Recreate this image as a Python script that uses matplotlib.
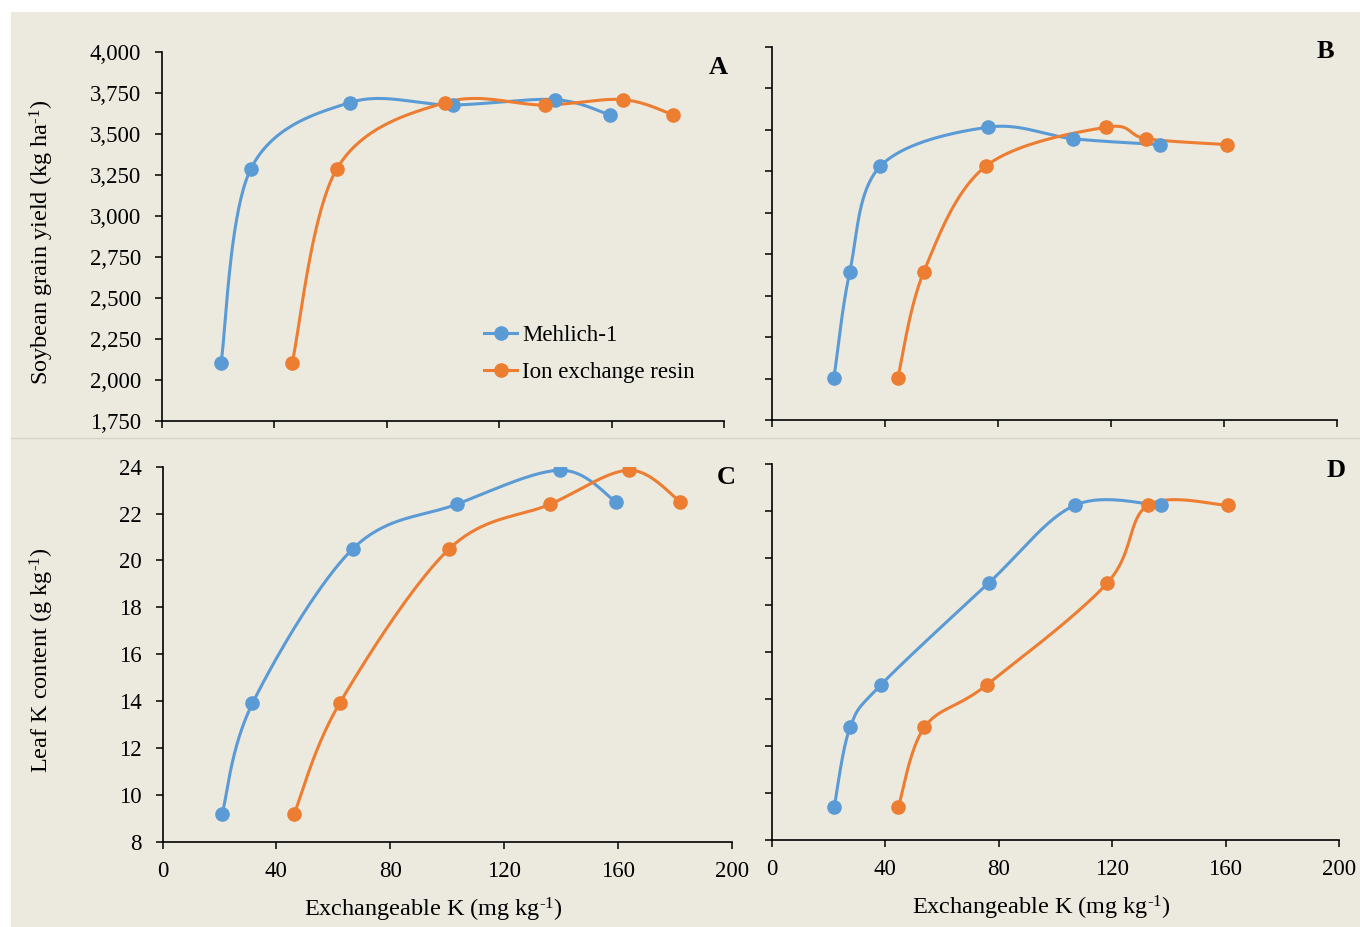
import numpy as np
import matplotlib
matplotlib.use('Agg')
import matplotlib.pyplot as plt
from matplotlib.patches import Rectangle
from matplotlib.lines import Line2D

# ---------------- data ----------------
series_names = ["Mehlich-1", "Ion exchange resin"]

# Panels A and C (same exchangeable K values)
k_mehlich_AC = [21.0, 31.6, 66.9, 103.4, 139.8, 159.3]
k_resin_AC = [46.3, 62.2, 100.8, 136.2, 164.0, 182.0]
yield_A = [2100, 3285, 3690, 3675, 3708, 3615]
leafk_C = [9.2, 13.9, 20.5, 22.4, 23.85, 22.5]

# Panels B and D
k_mehlich_BD = [22.1, 27.7, 38.5, 76.6, 106.8, 137.3]
k_resin_BD = [44.7, 53.9, 75.8, 118.4, 132.6, 161.0]
yield_B = [2005, 2645, 3280, 3515, 3445, 3410]
leafk_D = [9.4, 12.8, 14.6, 18.95, 22.25, 22.25]

x_ticks = [0, 40, 80, 120, 160, 200]
yield_ticks = [1750, 2000, 2250, 2500, 2750, 3000, 3250, 3500, 3750, 4000]
leafk_ticks = [8, 10, 12, 14, 16, 18, 20, 22, 24]

SUP = "$^{\\mathregular{\u2010" + "1}}$"
xlabel_text = "Exchangeable K (mg kg" + SUP + ")"
ylabel_top = "Soybean grain yield (kg ha" + SUP + ")"
ylabel_bottom = "Leaf K content (g kg" + SUP + ")"

BLUE = "#5B9BD5"
ORANGE = "#ED7D31"
BG = "#ECE9DF"

plt.rcParams['font.family'] = ['Liberation Serif', 'DejaVu Serif']
plt.rcParams['mathtext.fontset'] = 'custom'
plt.rcParams['mathtext.rm'] = 'Liberation Serif'
plt.rcParams['mathtext.it'] = 'Liberation Serif:italic'
plt.rcParams['mathtext.bf'] = 'Liberation Serif:bold'

W, H = 1360, 927
fig = plt.figure(figsize=(W / 100, H / 100), dpi=100)
fig.patch.set_facecolor('white')
fig.patches.append(Rectangle((11 / W, 0), 1 - 11 / W, (H - 12) / H,
                             transform=fig.transFigure, facecolor=BG,
                             edgecolor='none', zorder=-10))
fig.add_artist(Line2D([11 / W, 1], [1 - 437.5 / H] * 2, color='#D6D3C8', lw=1.0))


def axrect(l, r, t, b):
    return [l / W, 1 - b / H, (r - l) / W, (b - t) / H]


def smooth(ax, x, y, n=40):
    pts = ax.transData.transform(np.column_stack([x, y]))
    P = np.vstack([pts[0], pts, pts[-1]])
    out = []
    t = np.linspace(0, 1, n)[:, None]
    for i in range(1, len(P) - 2):
        p0, p1, p2, p3 = P[i - 1], P[i], P[i + 1], P[i + 2]
        c1 = p1 + (p2 - p0) / 6.0
        c2 = p2 - (p3 - p1) / 6.0
        seg = (1 - t) ** 3 * p1 + 3 * (1 - t) ** 2 * t * c1 + 3 * (1 - t) * t ** 2 * c2 + t ** 3 * p2
        out.append(seg if i == 1 else seg[1:])
    d = np.vstack(out)
    inv = ax.transData.inverted().transform(d)
    return inv[:, 0], inv[:, 1]


TICK_FS = 16.5
LABEL_FS = 17.5


def setup(ax, yticks, ylim, show_x, show_y, yfmt=None):
    ax.set_facecolor('none')
    ax.set_xlim(0, 200)
    ax.set_ylim(*ylim)
    for s in ['top', 'right']:
        ax.spines[s].set_visible(False)
    for s in ['left', 'bottom']:
        ax.spines[s].set_linewidth(1.2)
        ax.spines[s].set_color('black')
    ax.set_xticks(x_ticks)
    ax.set_yticks(yticks)
    if show_x:
        ax.set_xticklabels([str(v) for v in x_ticks])
    else:
        ax.set_xticklabels([])
    if show_y:
        ax.set_yticklabels([yfmt(v) if yfmt else str(v) for v in yticks])
    else:
        ax.set_yticklabels([])
    ax.tick_params(axis='both', direction='out', length=5, width=1.1,
                   labelsize=TICK_FS, colors='black')
    ax.tick_params(axis='y', pad=10)
    ax.tick_params(axis='x', pad=9)


def draw(ax, xs, ys, color):
    sx, sy = smooth(ax, xs, ys)
    ax.plot(sx, sy, color=color, lw=2.2, solid_capstyle='round', zorder=2)
    ax.plot(xs, ys, 'o', color=color, ms=9.5, mec=color, zorder=3)


axA = fig.add_axes(axrect(162, 724, 51.7, 420.7))
axB = fig.add_axes(axrect(771.5, 1337, 46.7, 420))
axC = fig.add_axes(axrect(162.5, 731.7, 466.7, 841.7))
axD = fig.add_axes(axrect(771.5, 1339, 464.3, 840))

setup(axA, yield_ticks, (1750, 4000), False, True, lambda v: f"{v:,}")
setup(axB, yield_ticks, (1750, 4000), False, False)
setup(axC, leafk_ticks, (8, 24), True, True)
setup(axD, leafk_ticks, (8, 24), True, False)

draw(axA, k_mehlich_AC, yield_A, BLUE)
draw(axA, k_resin_AC, yield_A, ORANGE)
draw(axB, k_mehlich_BD, yield_B, BLUE)
draw(axB, k_resin_BD, yield_B, ORANGE)
draw(axC, k_mehlich_AC, leafk_C, BLUE)
draw(axC, k_resin_AC, leafk_C, ORANGE)
draw(axD, k_mehlich_BD, leafk_D, BLUE)
draw(axD, k_resin_BD, leafk_D, ORANGE)

handles = [Line2D([], [], color=c, lw=2.2, marker='o', ms=9.5) for c in (BLUE, ORANGE)]
leg = axA.legend(handles, series_names, loc='upper left',
                 bbox_to_anchor=((484 - 162) / 562, (420.7 - 325) / 369),
                 frameon=False, fontsize=TICK_FS, handlelength=1.45,
                 handletextpad=0.2, labelspacing=0.7, borderpad=0,
                 borderaxespad=0)

# panel letters
for txt, (px, py) in zip("ABCD", [(718, 67), (1325, 52), (726, 477), (1336, 470)]):
    fig.text(px / W, 1 - py / H, txt, ha='center', va='center',
             fontsize=19, fontweight='bold')

# axis titles
fig.text(42 / W, 1 - 242 / H, ylabel_top, rotation=90, ha='center', va='center', fontsize=LABEL_FS)
fig.text(42 / W, 1 - 660 / H, ylabel_bottom, rotation=90, ha='center', va='center', fontsize=LABEL_FS)
fig.text(433 / W, 1 - 910 / H, xlabel_text, ha='center', va='center', fontsize=LABEL_FS)
fig.text(1041 / W, 1 - 908 / H, xlabel_text, ha='center', va='center', fontsize=LABEL_FS)

fig.savefig('out.png', dpi=100, facecolor=fig.get_facecolor())
